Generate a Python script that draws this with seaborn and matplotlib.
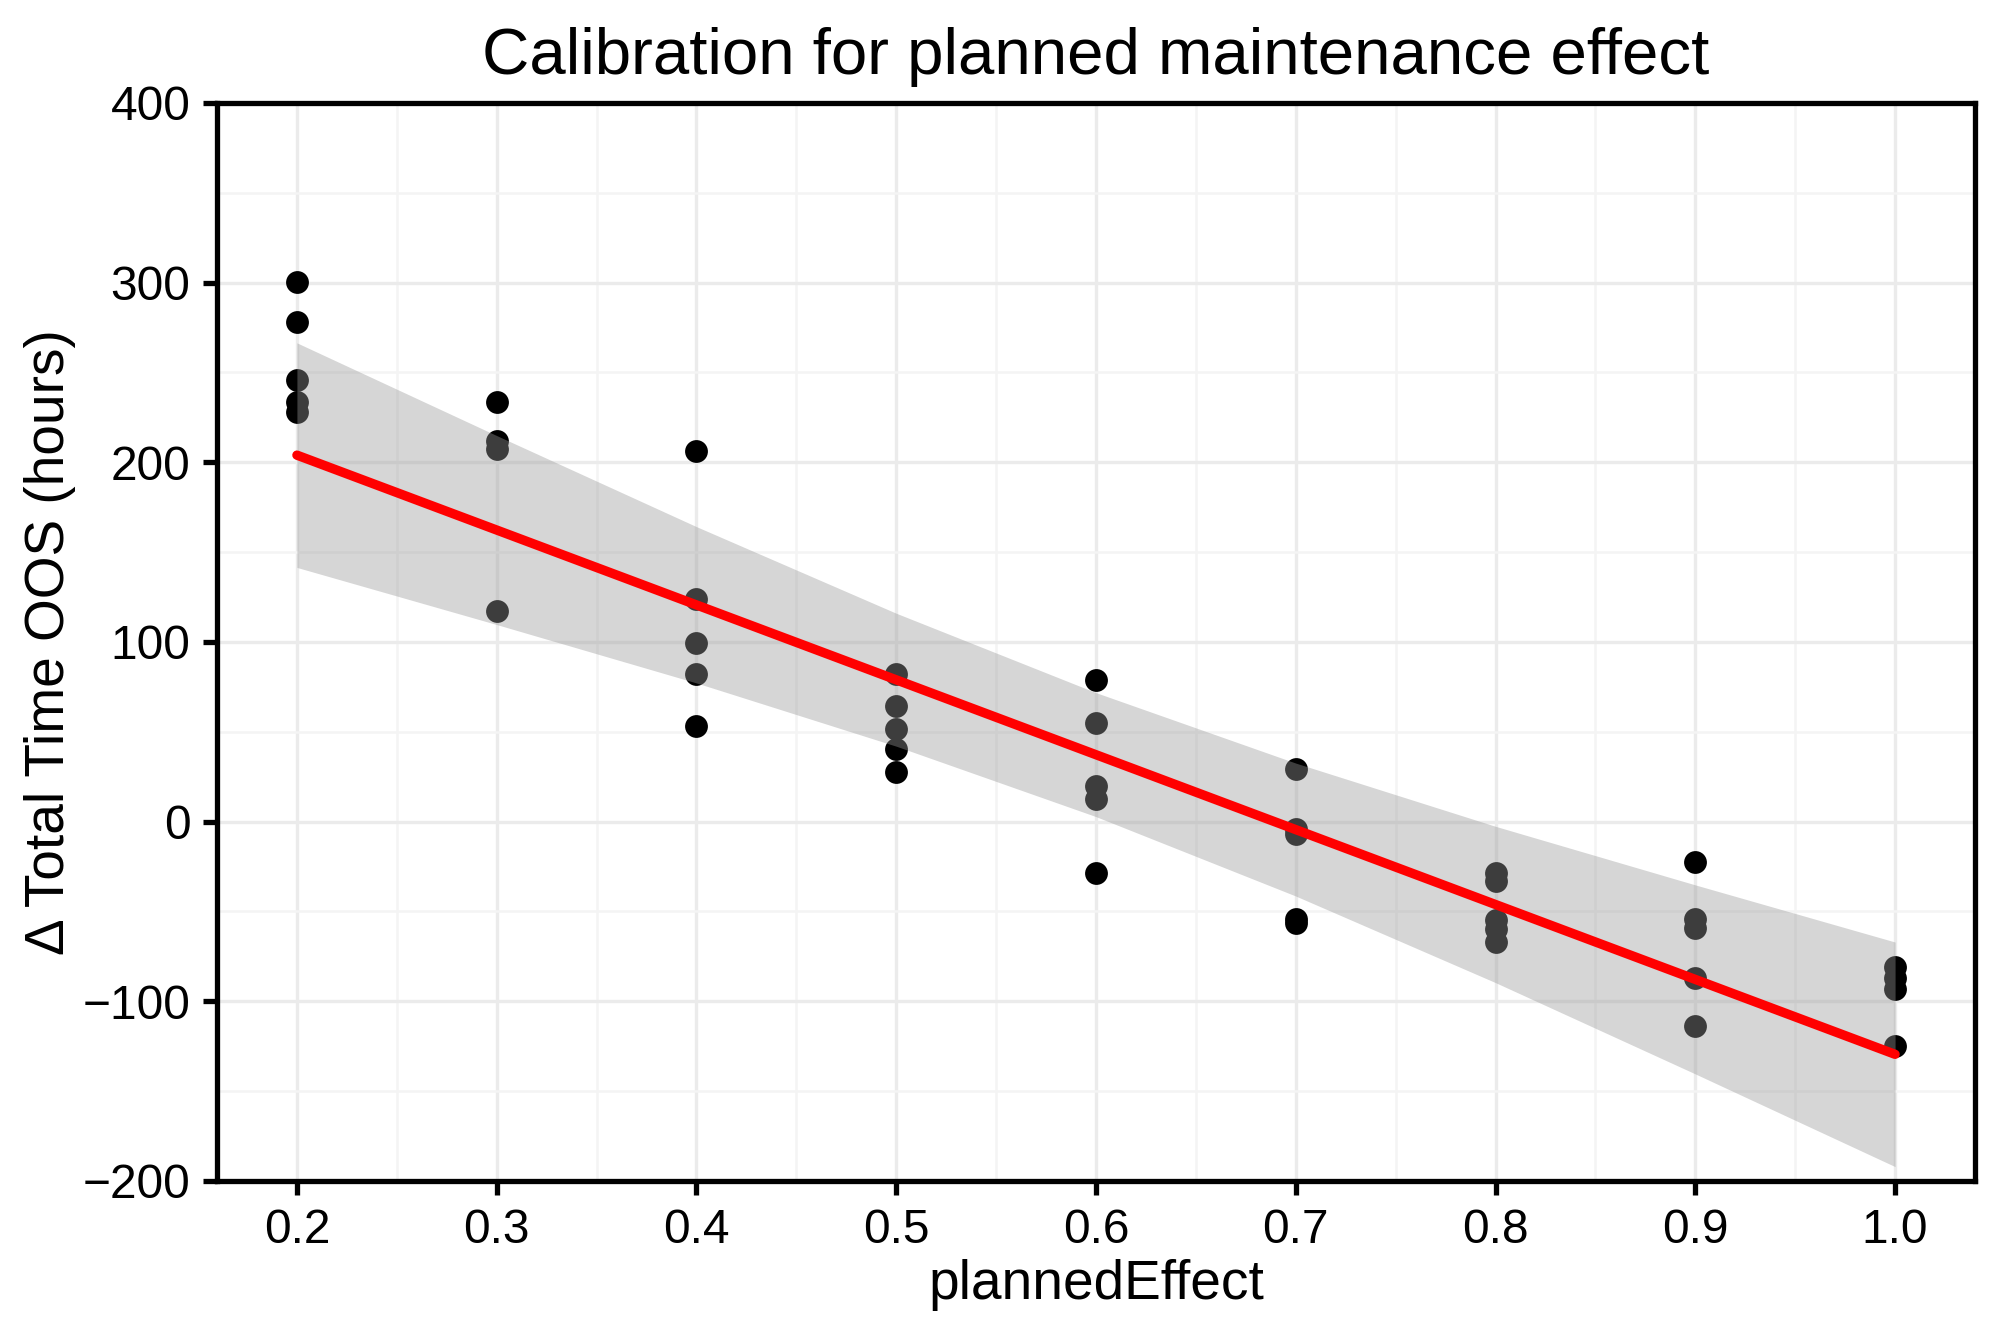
import matplotlib
matplotlib.use("Agg")

import matplotlib.pyplot as plt
import numpy as np
import pandas as pd
import seaborn as sns
from matplotlib.ticker import MultipleLocator

# simulation runs: planned maintenance effect vs change in out-of-service time
planned_effect = [
    0.2, 0.2, 0.2, 0.2, 0.2,
    0.3, 0.3, 0.3, 0.3,
    0.4, 0.4, 0.4, 0.4, 0.4,
    0.5, 0.5, 0.5, 0.5, 0.5,
    0.6, 0.6, 0.6, 0.6, 0.6,
    0.7, 0.7, 0.7, 0.7, 0.7,
    0.8, 0.8, 0.8, 0.8, 0.8,
    0.9, 0.9, 0.9, 0.9, 0.9,
    1.0, 1.0, 1.0, 1.0,
]
delta_hours = [
    300.4, 278.3, 246.0, 233.6, 227.9,
    233.3, 211.7, 207.3, 117.4,
    206.3, 124.2, 99.2, 82.3, 53.0,
    82.0, 64.6, 51.4, 40.7, 27.9,
    78.8, 55.0, 19.8, 12.4, -28.3,
    29.4, -4.0, -7.0, -54.0, -56.5,
    -28.5, -33.0, -55.0, -60.0, -67.0,
    -22.2, -54.0, -59.0, -87.2, -113.9,
    -80.8, -87.0, -93.2, -124.8,
]

# fitted line and its confidence band
effect_levels = [0.2, 0.3, 0.4, 0.5, 0.6, 0.7, 0.8, 0.9, 1.0]
band_lower = [141.5, 109.7, 77.2, 42.0, 2.8, -41.4, -89.6, -140.4, -192.0]
band_upper = [266.5, 214.9, 164.2, 116.0, 71.8, 32.6, -2.6, -35.2, -67.0]
fit_x = [0.2, 1.0]
fit_y = [204.0, -129.5]

df = pd.DataFrame({"plannedEffect": planned_effect, "delta": delta_hours})

sns.set_theme(style="white")
plt.rcParams["font.family"] = ["Liberation Sans", "DejaVu Sans"]

fig, ax = plt.subplots(figsize=(2000 / 300, 1334 / 300), dpi=300)
fig.subplots_adjust(left=0.1085, right=0.9875, bottom=0.1147, top=0.9228)

sns.scatterplot(data=df, x="plannedEffect", y="delta", color="black",
                s=30, linewidth=0, ax=ax, zorder=3)
ax.fill_between(effect_levels, band_lower, band_upper, color="#999999",
                alpha=0.4, linewidth=0, zorder=4)
sns.lineplot(x=fit_x, y=fit_y, color="#ff0000", linewidth=2.25, ax=ax, zorder=5)

ax.set_xlim(0.16, 1.04)
ax.set_ylim(-200, 400)
ax.set_xticks(effect_levels)
ax.set_xticklabels([f"{v:.1f}" for v in effect_levels])
ax.set_yticks(range(-200, 401, 100))
ax.xaxis.set_minor_locator(MultipleLocator(0.05))
ax.yaxis.set_minor_locator(MultipleLocator(50))

ax.set_axisbelow(True)
ax.grid(which="major", color="#ebebeb", linewidth=0.8)
ax.grid(which="minor", color="#f4f4f4", linewidth=0.6)

for sp in ax.spines.values():
    sp.set_visible(True)
    sp.set_color("black")
    sp.set_linewidth(1.27)

ax.tick_params(which="major", bottom=True, left=True, direction="out",
               length=3.4, width=1.27, color="black", labelsize=11.5,
               labelcolor="black", pad=3)
ax.tick_params(axis="x", which="major", pad=3)
ax.tick_params(which="minor", length=0)

ax.set_title("Calibration for planned maintenance effect", fontsize=15.7,
             pad=7, color="black")
ax.set_xlabel("plannedEffect", fontsize=13.2, color="black", labelpad=1.5)
ax.set_ylabel("\u0394 Total Time OOS (hours)", fontsize=13.2, color="black",
              labelpad=1.5)

fig.savefig("out.png", dpi=300)
plt.close(fig)
